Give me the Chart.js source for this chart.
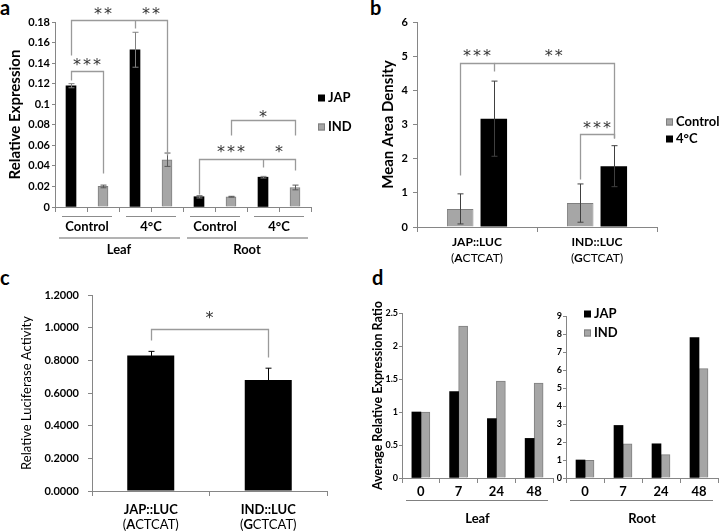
<!DOCTYPE html>
<html>
<head>
<meta charset="utf-8">
<script src="https://cdn.jsdelivr.net/npm/chart.js@4.4.1/dist/chart.umd.min.js"></script>
<style>
  body { margin: 0; background: #fff; width: 722px; height: 531px; overflow: hidden; position: relative; }
  canvas { position: absolute; }
  .tag { position: absolute; font: bold 20px Lato, sans-serif; line-height: 20px; color: #000; }
</style>
</head>
<body>
<div class="tag" style="left:0px;top:-3px">a</div>
<div class="tag" style="left:370px;top:-3px">b</div>
<div class="tag" style="left:0px;top:267px">c</div>
<div class="tag" style="left:372px;top:267px">d</div>

<canvas id="chart-a" width="370" height="262" style="left:0;top:0"></canvas>
<canvas id="chart-b" width="352" height="268" style="left:370px;top:0"></canvas>
<canvas id="chart-c" width="370" height="269" style="left:0;top:262px"></canvas>
<canvas id="chart-leaf" width="190" height="269" style="left:370px;top:262px"></canvas>
<canvas id="chart-root" width="170" height="269" style="left:552px;top:262px"></canvas>

<script>
// ---- Data ----

// a: one slot per bar, JAP and IND alternate
const aSlots   = ['Leaf Control JAP', 'Leaf Control IND', 'Leaf 4°C JAP', 'Leaf 4°C IND',
                  'Root Control JAP', 'Root Control IND', 'Root 4°C JAP', 'Root 4°C IND']
const aGroups  = ['Control', '4°C', 'Control', '4°C']
const aTissues = ['Leaf', 'Root']
const aJap     = [0.118, null, 0.153, null, 0.010, null, 0.029, null]
const aJapErr  = [0.002, null, 0.017, null, 0.0012, null, 0.0008, null]
const aInd     = [null, 0.020, null, 0.046, null, 0.010, null, 0.019]
const aIndErr  = [null, 0.0013, null, 0.0065, null, 0.0004, null, 0.0023]

// b
const bConstructs = ['JAP::LUC', 'IND::LUC']
const bMotifs     = ['ACTCAT', 'GCTCAT']
const bControl    = [0.53, 0.70]
const bControlErr = [0.44, 0.56]
const bCold       = [3.17, 1.78]
const bColdErr    = [1.1, 0.6]

// c
const cConstructs  = ['JAP::LUC', 'IND::LUC']
const cMotifs      = ['ACTCAT', 'GCTCAT']
const cActivity    = [0.83, 0.68]
const cActivityErr = [0.025, 0.072]

// d
const dHours   = ['0', '7', '24', '48']
const dLeafJap = [1.0, 1.31, 0.9, 0.6]
const dLeafInd = [1.0, 2.3, 1.47, 1.44]
const dRootJap = [1.0, 2.92, 1.9, 7.8]
const dRootInd = [0.98, 1.9, 1.3, 6.08]

// significance brackets: points are [dataset, index, value]
const aBrackets = [
  [[0, 0, 0.1236], [0, 0, 0.132], [1, 1, 0.132], [1, 1, 0.033]],
  [[0, 0, 0.148], [0, 0, 0.182], [1, 3, 0.182], [1, 3, 0.0506]],
  [[0, 2, 0.182], [0, 2, 0.174]],
  [[0, 4, 0.0125], [0, 4, 0.0467], [1, 7, 0.0467], [1, 7, 0.036]],
  [[0, 6, 0.0467], [0, 6, 0.039]],
  [[1, 5, 0.070], [1, 5, 0.0847], [1, 7, 0.0847], [1, 7, 0.070]]
]
const aStars = [
  ['***', [0, 0], [1, 1], 0.141],
  ['**',  [0, 0], [0, 2], 0.191],
  ['**',  [0, 2], [1, 3], 0.191],
  ['***', [0, 4], [0, 6], 0.056],
  ['*',   [0, 6], [1, 7], 0.056],
  ['*',   [1, 5], [1, 7], 0.0905]
]
const bBrackets = [
  [[0, 0, 1.52], [0, 0, 4.8], [1, 0, 4.8], [1, 0, 4.57]],
  [[1, 0, 4.8], [1, 1, 4.8], [1, 1, 2.6]],
  [[0, 1, 1.4], [0, 1, 2.72], [1, 1, 2.72], [1, 1, 2.6]]
]
const bStars = [
  ['***', [0, 0], [1, 0], 5.1],
  ['**',  [1, 0], [1, 1], 5.1],
  ['***', [0, 1], [1, 1], 3.0]
]
const cBrackets = [[[0, 0, 0.925], [0, 0, 0.992], [0, 1, 0.992], [0, 1, 0.82]]]
const cStars = [['*', [0, 0], [0, 1], 1.08]]

// ---- Styles ----

const BLACK = '#000000'
const GREY = '#a6a6a6'
const GREY_EDGE = '#7f7f7f'
const AXIS = '#868686'
const BRACKET = '#9a9a9a'
const STAR = '#333333'
const FONT = 'Lato, sans-serif'

// ---- Helpers ----

function barX(chart, ref) {
  return chart.getDatasetMeta(ref[0]).data[ref[1]].x
}

function centerText(ctx, str, x, y, font, color = '#000') {
  ctx.save()
  ctx.font = font
  ctx.fillStyle = color
  ctx.textAlign = 'center'
  ctx.textBaseline = 'middle'
  ctx.fillText(str, x, y)
  ctx.restore()
}

function starText(ctx, str, x, y) {
  const gap = 2
  ctx.save()
  ctx.font = '16px "DejaVu Sans", sans-serif'
  ctx.letterSpacing = gap + 'px'
  ctx.fillStyle = STAR
  ctx.textAlign = 'left'
  ctx.textBaseline = 'alphabetic'
  const m = ctx.measureText(str)
  const w = m.width - gap
  ctx.fillText(str, x - w / 2, y + (m.actualBoundingBoxAscent - m.actualBoundingBoxDescent) / 2)
  ctx.restore()
}

function motifText(ctx, motif, cx, y, size) {
  const parts = [['(', size + 'px ' + FONT], [motif[0], 'bold ' + size + 'px ' + FONT], [motif.slice(1) + ')', size + 'px ' + FONT]]
  ctx.save()
  ctx.fillStyle = '#000'
  ctx.textBaseline = 'middle'
  ctx.textAlign = 'left'
  const widths = parts.map(p => { ctx.font = p[1]; return ctx.measureText(p[0]).width })
  let x = cx - widths.reduce((s, w) => s + w, 0) / 2
  parts.forEach((p, k) => { ctx.font = p[1]; ctx.fillText(p[0], x, y); x += widths[k] })
  ctx.restore()
}

function hline(ctx, x1, x2, y, color, width) {
  ctx.save()
  ctx.strokeStyle = color
  ctx.lineWidth = width
  ctx.beginPath()
  ctx.moveTo(x1, y)
  ctx.lineTo(x2, y)
  ctx.stroke()
  ctx.restore()
}

function drawLegend(chart, x, ys, font) {
  const ctx = chart.ctx
  chart.data.datasets.forEach((ds, k) => {
    const y = ys[k]
    ctx.save()
    ctx.fillStyle = ds.backgroundColor
    ctx.fillRect(x, y - 3.5, 7, 7)
    if (ds.borderWidth) {
      ctx.strokeStyle = ds.borderColor
      ctx.lineWidth = 1
      ctx.strokeRect(x + 0.5, y - 3, 6, 6)
    }
    ctx.restore()
    ctx.save()
    ctx.font = font
    ctx.fillStyle = '#000'
    ctx.textAlign = 'left'
    ctx.textBaseline = 'middle'
    ctx.fillText(ds.label, x + 10, y)
    ctx.restore()
  })
}

// ---- Plugins ----

const errorBars = {
  id: 'errorBars',
  afterDatasetsDraw(chart) {
    const ctx = chart.ctx
    const y = chart.scales.y
    chart.data.datasets.forEach((ds, di) => {
      if (!ds.errors) return
      chart.getDatasetMeta(di).data.forEach((bar, i) => {
        const v = ds.data[i], e = ds.errors[i]
        if (v == null || !e) return
        const x = Math.round(bar.x) + 0.5
        const top = y.getPixelForValue(v + e), bot = y.getPixelForValue(v - e)
        ctx.save()
        ctx.strokeStyle = ds.errorColor
        ctx.lineWidth = 1
        ctx.beginPath()
        ctx.moveTo(x, top); ctx.lineTo(x, bot)
        ctx.moveTo(x - 3, top); ctx.lineTo(x + 3, top)
        ctx.moveTo(x - 3, bot); ctx.lineTo(x + 3, bot)
        ctx.stroke()
        ctx.restore()
      })
    })
  }
}

function decor(cfg) {
  return {
    id: 'decor',
    afterDraw(chart) {
      const ctx = chart.ctx
      const y = chart.scales.y
      ;(cfg.brackets || []).forEach(pts => {
        ctx.save()
        ctx.strokeStyle = BRACKET
        ctx.lineWidth = 1.3
        ctx.beginPath()
        pts.forEach((p, k) => {
          const px = Math.round(barX(chart, p)) + 0.5
          const py = Math.round(y.getPixelForValue(p[2])) + 0.5
          if (k === 0) ctx.moveTo(px, py)
          else ctx.lineTo(px, py)
        })
        ctx.stroke()
        ctx.restore()
      })
      ;(cfg.stars || []).forEach(s => {
        starText(ctx, s[0], (barX(chart, s[1]) + barX(chart, s[2])) / 2, y.getPixelForValue(s[3]))
      })
      if (cfg.legend) drawLegend(chart, cfg.legend.x, cfg.legend.ys, cfg.legend.font)
      if (cfg.labels) cfg.labels(chart, ctx)
    }
  }
}

function baseOptions(o) {
  return {
    responsive: false,
    animation: false,
    devicePixelRatio: 1,
    layout: { padding: o.pad },
    plugins: { legend: { display: false }, tooltip: { enabled: false } },
    scales: {
      x: {
        grid: { drawOnChartArea: false, tickLength: 5, color: AXIS },
        border: { color: AXIS },
        ticks: { display: false },
        afterFit: s => { s.height = o.xHeight }
      },
      y: {
        min: o.min, max: o.max,
        ticks: { stepSize: o.step, callback: o.fmt, font: o.tickFont, color: '#000', padding: o.tickPad },
        grid: { drawOnChartArea: false, tickLength: o.tickLen, color: AXIS },
        border: { color: AXIS },
        title: o.title,
        afterFit: s => { s.width = o.yWidth }
      }
    }
  }
}

// ---- Panel a ----

function drawALabels(chart, ctx) {
  const x = chart.scales.x, bottom = chart.chartArea.bottom
  const half = (x.getPixelForValue(1) - x.getPixelForValue(0)) / 2
  aGroups.forEach((g, k) => {
    const cx = (x.getPixelForValue(2 * k) + x.getPixelForValue(2 * k + 1)) / 2
    hline(ctx, cx - 25, cx + 25, bottom + 9.5, '#8c8c8c', 1)
    centerText(ctx, g, cx, bottom + 20, 'bold 13px ' + FONT)
  })
  aTissues.forEach((t, k) => {
    const l = x.getPixelForValue(4 * k) - half, r = x.getPixelForValue(4 * k + 3) + half
    hline(ctx, l + 4, r - 3, bottom + 31, '#b3b3b3', 2)
    centerText(ctx, t, (l + r) / 2, bottom + 43, 'bold 13px ' + FONT)
  })
}

new Chart(document.getElementById('chart-a'), {
  type: 'bar',
  data: {
    labels: aSlots,
    datasets: [
      { label: 'JAP', data: aJap, errors: aJapErr, errorColor: '#808080', skipNull: true,
        backgroundColor: BLACK, borderWidth: 0, barThickness: 10 },
      { label: 'IND', data: aInd, errors: aIndErr, errorColor: '#595959', skipNull: true,
        backgroundColor: GREY, borderColor: GREY_EDGE, borderWidth: 1, barThickness: 10 }
    ]
  },
  options: baseOptions({
    pad: { top: 22, right: 59, left: 0, bottom: 0 },
    xHeight: 55, yWidth: 55,
    min: 0, max: 0.18, step: 0.02,
    fmt: v => String(+v.toFixed(2)),
    tickFont: { family: FONT, size: 11, weight: 'bold' }, tickPad: 2, tickLen: 3,
    title: { display: true, text: 'Relative Expression', color: '#000',
             font: { family: FONT, size: 15, weight: 'bold' }, padding: { top: 6 } }
  }),
  plugins: [errorBars, decor({
    brackets: aBrackets, stars: aStars,
    legend: { x: 318, ys: [98, 127], font: 'bold 13px ' + FONT },
    labels: drawALabels
  })]
})

// ---- Panel b / c (construct axes) ----

function constructLabels(names, motifs, dy1, dy2, size) {
  return (chart, ctx) => {
    const x = chart.scales.x, bottom = chart.chartArea.bottom
    names.forEach((n, i) => {
      const cx = x.getPixelForValue(i)
      centerText(ctx, n, cx, bottom + dy1, 'bold ' + size + 'px ' + FONT)
      motifText(ctx, motifs[i], cx, bottom + dy2, size)
    })
  }
}

new Chart(document.getElementById('chart-b'), {
  type: 'bar',
  data: {
    labels: bConstructs,
    datasets: [
      { label: 'Control', data: bControl, errors: bControlErr, errorColor: '#404040',
        backgroundColor: GREY, borderColor: GREY_EDGE, borderWidth: 1,
        categoryPercentage: 0.56, barPercentage: 0.79 },
      { label: '4°C', data: bCold, errors: bColdErr, errorColor: '#404040',
        backgroundColor: BLACK, borderWidth: 0,
        categoryPercentage: 0.56, barPercentage: 0.79 }
    ]
  },
  options: baseOptions({
    pad: { top: 22, right: 65, left: 0, bottom: 0 },
    xHeight: 41, yWidth: 47,
    min: 0, max: 6, step: 1,
    fmt: v => String(v),
    tickFont: { family: FONT, size: 11, weight: 'bold' }, tickPad: 5, tickLen: 4,
    title: { display: true, text: 'Mean Area Density', color: '#000',
             font: { family: FONT, size: 15, weight: 'bold' }, padding: { top: 9 } }
  }),
  plugins: [errorBars, decor({
    brackets: bBrackets, stars: bStars,
    legend: { x: 296, ys: [122, 139], font: 'bold 13px ' + FONT },
    labels: constructLabels(bConstructs, bMotifs, 15, 31, 12)
  })]
})

new Chart(document.getElementById('chart-c'), {
  type: 'bar',
  data: {
    labels: cConstructs,
    datasets: [
      { label: 'Luciferase', data: cActivity, errors: cActivityErr, errorColor: '#000000',
        backgroundColor: BLACK, borderWidth: 0, categoryPercentage: 1, barPercentage: 0.4 }
    ]
  },
  options: baseOptions({
    pad: { top: 33, right: 43, left: 0, bottom: 0 },
    xHeight: 40, yWidth: 92,
    min: 0, max: 1.2, step: 0.2,
    fmt: v => v.toFixed(4),
    tickFont: { family: FONT, size: 11, weight: 'bold' }, tickPad: 9, tickLen: 4,
    title: { display: true, text: 'Relative Luciferase Activity', color: '#000',
             font: { family: FONT, size: 13 }, padding: { top: 19 } }
  }),
  plugins: [errorBars, decor({
    brackets: cBrackets, stars: cStars,
    labels: constructLabels(cConstructs, cMotifs, 19, 34, 13)
  })]
})

// ---- Panel d ----

function hourLabels(tissue) {
  return (chart, ctx) => {
    const x = chart.scales.x, { left, right, bottom } = chart.chartArea
    dHours.forEach((h, i) => centerText(ctx, h, x.getPixelForValue(i), bottom + 14, 'bold 13px ' + FONT))
    hline(ctx, left + 4, right - 5, bottom + 22.5, '#808080', 1)
    centerText(ctx, tissue, (left + right) / 2, bottom + 41, 'bold 13px ' + FONT)
  }
}

function dDatasets(jap, ind) {
  return [
    { label: 'JAP', data: jap, backgroundColor: BLACK, borderWidth: 0,
      barThickness: 9, categoryPercentage: 0.69 },
    { label: 'IND', data: ind, backgroundColor: GREY, borderColor: GREY_EDGE, borderWidth: 1,
      barThickness: 9, categoryPercentage: 0.69 }
  ]
}

new Chart(document.getElementById('chart-leaf'), {
  type: 'bar',
  data: { labels: dHours, datasets: dDatasets(dLeafJap, dLeafInd) },
  options: baseOptions({
    pad: { top: 51, right: 7, left: 0, bottom: 0 },
    xHeight: 53, yWidth: 32,
    min: 0, max: 2.5, step: 0.5,
    fmt: v => String(+v.toFixed(2)),
    tickFont: { family: FONT, size: 9, weight: 'bold' }, tickPad: 1, tickLen: 3,
    title: { display: true, text: 'Average Relative Expression Ratio', color: '#000',
             font: { family: FONT, size: 12.5, weight: 'bold' }, padding: { top: 0 } }
  }),
  plugins: [decor({ labels: hourLabels('Leaf') })]
})

new Chart(document.getElementById('chart-root'), {
  type: 'bar',
  data: { labels: dHours, datasets: dDatasets(dRootJap, dRootInd) },
  options: baseOptions({
    pad: { top: 54, right: 4, left: 0, bottom: 0 },
    xHeight: 53, yWidth: 14,
    min: 0, max: 9, step: 1,
    fmt: v => String(v),
    tickFont: { family: FONT, size: 9, weight: 'bold' }, tickPad: 1, tickLen: 3,
    title: { display: false }
  }),
  plugins: [decor({
    legend: { x: 32, ys: [52, 71], font: 'bold 13px ' + FONT },
    labels: hourLabels('Root')
  })]
})
</script>
</body>
</html>
